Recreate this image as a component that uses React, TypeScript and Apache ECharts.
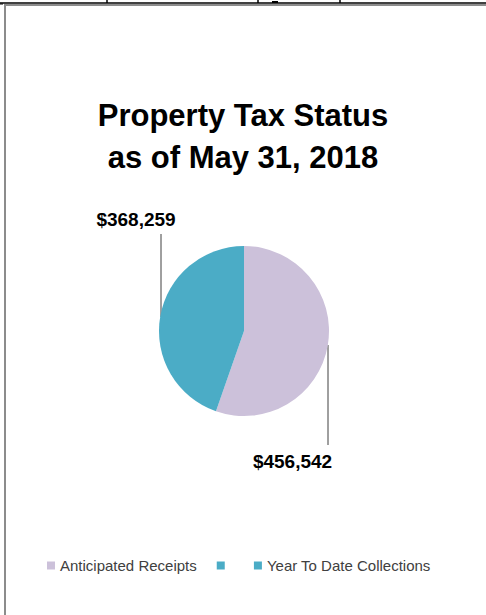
import React, { useEffect, useRef } from "react";
import * as echarts from "echarts";

const titleLines = ["Property Tax Status", "as of May 31, 2018"];
const categories = ["Anticipated Receipts", " ", "Year To Date Collections"];
const values = [456542, 0, 368259];
const colors = ["#CCC1DA", "#4BACC6", "#4BACC6"];

const W = 486;
const H = 615;
const CX = 244;
const CY = 331;
const R = 85;

export default function App() {
  const ref = useRef<HTMLDivElement>(null);
  useEffect(() => {
    if (!ref.current) return;
    const chart = echarts.init(ref.current, null, { renderer: "svg" });
    const data = categories.map((name, i) => {
      const item: any = { name, value: values[i], itemStyle: { color: colors[i] } };
      if (values[i] === 0) {
        item.label = { show: false };
        item.labelLine = { show: false };
      }
      return item;
    });
    chart.setOption({
      animation: false,
      backgroundColor: "#ffffff",
      title: {
        text: titleLines.join("\n"),
        left: "center",
        top: 89,
        textStyle: {
          fontFamily: "Liberation Sans",
          fontWeight: "bold",
          fontSize: 31,
          lineHeight: 42,
          color: "#000000",
        },
      },
      legend: {
        data: categories,
        left: 42,
        top: 553,
        icon: "rect",
        itemWidth: 8,
        itemHeight: 8,
        itemGap: 20,
        textStyle: {
          fontFamily: "Liberation Sans",
          fontSize: 15,
          color: "#404040",
        },
      },
      series: [
        {
          type: "pie",
          center: [CX, CY],
          radius: [0, R],
          startAngle: 90,
          clockwise: true,
          data,
          label: {
            show: true,
            formatter: (p: any) => "$" + Number(p.value).toLocaleString("en-US"),
            fontFamily: "Liberation Sans",
            fontWeight: "bold",
            fontSize: 19,
            color: "#000000",
          },
          labelLine: {
            show: true,
            lineStyle: { color: "#404040", width: 1 },
          },
          labelLayout: (params: any) => {
            if (params.dataIndex === 0) {
              return {
                x: CX + 48.5,
                y: CY + 130.5,
                align: "center",
                verticalAlign: "middle",
                labelLinePoints: [
                  [CX + R - 1, CY + 14],
                  [CX + R - 1, CY + 64],
                  [CX + R - 1, CY + 114],
                ],
              };
            }
            if (params.dataIndex === 2) {
              return {
                x: CX - 108,
                y: CY - 112,
                align: "center",
                verticalAlign: "middle",
                labelLinePoints: [
                  [CX - 83, CY - 14],
                  [CX - 83, CY - 55],
                  [CX - 83, CY - 97],
                ],
              };
            }
            return {};
          },
          emphasis: { disabled: true },
        },
      ],
      graphic: [
        { type: "line", shape: { x1: 0, y1: 3, x2: W, y2: 3 }, style: { stroke: "#000000", lineWidth: 1.5 } },
        { type: "line", shape: { x1: 107, y1: 0, x2: 107, y2: 3 }, style: { stroke: "#000000", lineWidth: 1.5 } },
        { type: "line", shape: { x1: 258, y1: 0, x2: 258, y2: 3 }, style: { stroke: "#000000", lineWidth: 1.5 } },
        { type: "line", shape: { x1: 340, y1: 0, x2: 340, y2: 3 }, style: { stroke: "#000000", lineWidth: 1.5 } },
        { type: "rect", shape: { x: 272, y: 1, width: 6, height: 2 }, style: { fill: "#000000" } },
        { type: "line", shape: { x1: 0, y1: 4, x2: 3, y2: 4 }, style: { stroke: "#000000", lineWidth: 1 } },
        { type: "line", shape: { x1: 5, y1: 5, x2: W, y2: 5 }, style: { stroke: "#8C8C8C", lineWidth: 2 } },
        { type: "line", shape: { x1: 5, y1: 4, x2: 5, y2: H }, style: { stroke: "#8C8C8C", lineWidth: 2 } },
      ],
    });
    return () => chart.dispose();
  }, []);
  return (
    <div
      ref={ref}
      style={{ position: "fixed", left: 0, top: 0, width: W, height: H }}
    />
  );
}
